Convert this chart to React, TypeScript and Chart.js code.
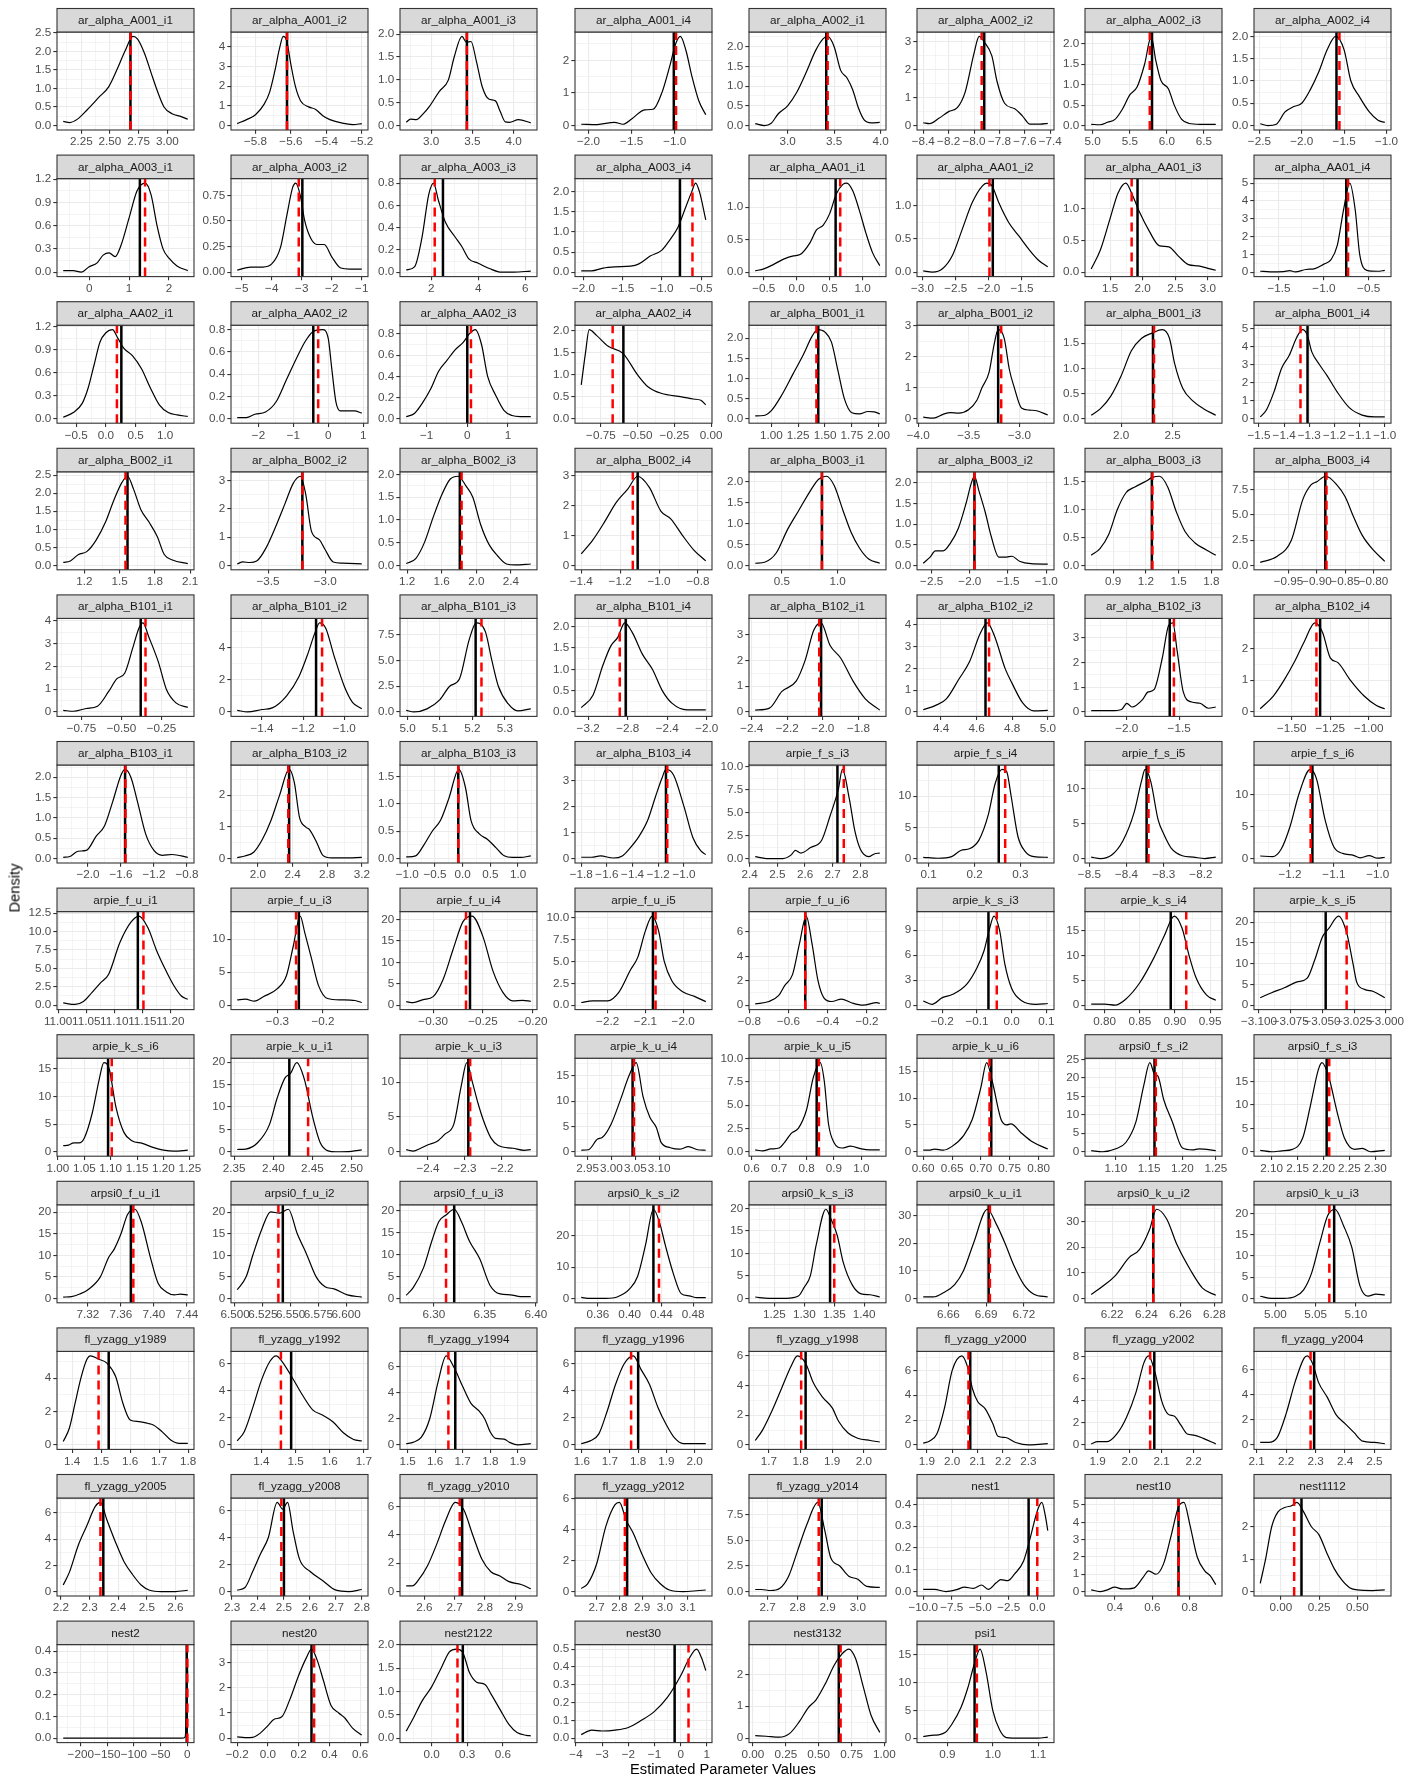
import React, { useEffect, useRef } from "react";
import { Chart, registerables } from "chart.js";

Chart.register(...registerables);

const panelNames = [
  "ar_alpha_A001_i1", "ar_alpha_A001_i2", "ar_alpha_A001_i3", "ar_alpha_A001_i4", "ar_alpha_A002_i1", "ar_alpha_A002_i2", "ar_alpha_A002_i3", "ar_alpha_A002_i4",
  "ar_alpha_A003_i1", "ar_alpha_A003_i2", "ar_alpha_A003_i3", "ar_alpha_A003_i4", "ar_alpha_AA01_i1", "ar_alpha_AA01_i2", "ar_alpha_AA01_i3", "ar_alpha_AA01_i4",
  "ar_alpha_AA02_i1", "ar_alpha_AA02_i2", "ar_alpha_AA02_i3", "ar_alpha_AA02_i4", "ar_alpha_B001_i1", "ar_alpha_B001_i2", "ar_alpha_B001_i3", "ar_alpha_B001_i4",
  "ar_alpha_B002_i1", "ar_alpha_B002_i2", "ar_alpha_B002_i3", "ar_alpha_B002_i4", "ar_alpha_B003_i1", "ar_alpha_B003_i2", "ar_alpha_B003_i3", "ar_alpha_B003_i4",
  "ar_alpha_B101_i1", "ar_alpha_B101_i2", "ar_alpha_B101_i3", "ar_alpha_B101_i4", "ar_alpha_B102_i1", "ar_alpha_B102_i2", "ar_alpha_B102_i3", "ar_alpha_B102_i4",
  "ar_alpha_B103_i1", "ar_alpha_B103_i2", "ar_alpha_B103_i3", "ar_alpha_B103_i4", "arpie_f_s_i3", "arpie_f_s_i4", "arpie_f_s_i5", "arpie_f_s_i6",
  "arpie_f_u_i1", "arpie_f_u_i3", "arpie_f_u_i4", "arpie_f_u_i5", "arpie_f_u_i6", "arpie_k_s_i3", "arpie_k_s_i4", "arpie_k_s_i5",
  "arpie_k_s_i6", "arpie_k_u_i1", "arpie_k_u_i3", "arpie_k_u_i4", "arpie_k_u_i5", "arpie_k_u_i6", "arpsi0_f_s_i2", "arpsi0_f_s_i3",
  "arpsi0_f_u_i1", "arpsi0_f_u_i2", "arpsi0_f_u_i3", "arpsi0_k_s_i2", "arpsi0_k_s_i3", "arpsi0_k_u_i1", "arpsi0_k_u_i2", "arpsi0_k_u_i3",
  "fl_yzagg_y1989", "fl_yzagg_y1992", "fl_yzagg_y1994", "fl_yzagg_y1996", "fl_yzagg_y1998", "fl_yzagg_y2000", "fl_yzagg_y2002", "fl_yzagg_y2004",
  "fl_yzagg_y2005", "fl_yzagg_y2008", "fl_yzagg_y2010", "fl_yzagg_y2012", "fl_yzagg_y2014", "nest1", "nest10", "nest1112",
  "nest2", "nest20", "nest2122", "nest30", "nest3132", "psi1",
];

const xTicks: number[][] = [
  [2.25, 2.5, 2.75, 3], [-5.8, -5.6, -5.4, -5.2], [3, 3.5, 4], [-2, -1.5, -1], [3, 3.5, 4], [-8.4, -8.2, -8, -7.8, -7.6, -7.4], [5, 5.5, 6, 6.5], [-2.5, -2, -1.5, -1],
  [0, 1, 2], [-5, -4, -3, -2, -1], [2, 4, 6], [-2, -1.5, -1, -0.5], [-0.5, 0, 0.5, 1], [-3, -2.5, -2, -1.5], [1.5, 2, 2.5, 3], [-1.5, -1, -0.5],
  [-0.5, 0, 0.5, 1], [-2, -1, 0, 1], [-1, 0, 1], [-0.75, -0.5, -0.25, 0], [1, 1.25, 1.5, 1.75, 2], [-4, -3.5, -3], [2, 2.5], [-1.5, -1.4, -1.3, -1.2, -1.1, -1],
  [1.2, 1.5, 1.8, 2.1], [-3.5, -3], [1.2, 1.6, 2, 2.4], [-1.4, -1.2, -1, -0.8], [0.5, 1], [-2.5, -2, -1.5, -1], [0.9, 1.2, 1.5, 1.8], [-0.95, -0.9, -0.85, -0.8],
  [-0.75, -0.5, -0.25], [-1.4, -1.2, -1], [5, 5.1, 5.2, 5.3], [-3.2, -2.8, -2.4, -2], [-2.4, -2.2, -2, -1.8], [4.4, 4.6, 4.8, 5], [-2, -1.5], [-1.5, -1.25, -1],
  [-2, -1.6, -1.2, -0.8], [2, 2.4, 2.8, 3.2], [-1, -0.5, 0, 0.5, 1], [-1.8, -1.6, -1.4, -1.2, -1], [2.4, 2.5, 2.6, 2.7, 2.8], [0.1, 0.2, 0.3], [-8.5, -8.4, -8.3, -8.2], [-1.2, -1.1, -1],
  [11, 11.05, 11.1, 11.15, 11.2], [-0.3, -0.2], [-0.3, -0.25, -0.2], [-2.2, -2.1, -2], [-0.8, -0.6, -0.4, -0.2], [-0.2, -0.1, 0, 0.1], [0.8, 0.85, 0.9, 0.95], [-3.1, -3.075, -3.05, -3.025, -3],
  [1, 1.05, 1.1, 1.15, 1.2, 1.25], [2.35, 2.4, 2.45, 2.5], [-2.4, -2.3, -2.2], [2.95, 3, 3.05, 3.1], [0.6, 0.7, 0.8, 0.9, 1], [0.6, 0.65, 0.7, 0.75, 0.8], [1.1, 1.15, 1.2, 1.25], [2.1, 2.15, 2.2, 2.25, 2.3],
  [7.32, 7.36, 7.4, 7.44], [6.5, 6.525, 6.55, 6.575, 6.6], [6.3, 6.35, 6.4], [0.36, 0.4, 0.44, 0.48], [1.25, 1.3, 1.35, 1.4], [6.66, 6.69, 6.72], [6.22, 6.24, 6.26, 6.28], [5, 5.05, 5.1],
  [1.4, 1.5, 1.6, 1.7, 1.8], [1.4, 1.5, 1.6, 1.7], [1.5, 1.6, 1.7, 1.8, 1.9], [1.6, 1.7, 1.8, 1.9, 2], [1.7, 1.8, 1.9, 2], [1.9, 2, 2.1, 2.2, 2.3], [1.9, 2, 2.1, 2.2], [2.1, 2.2, 2.3, 2.4, 2.5],
  [2.2, 2.3, 2.4, 2.5, 2.6], [2.3, 2.4, 2.5, 2.6, 2.7, 2.8], [2.6, 2.7, 2.8, 2.9], [2.7, 2.8, 2.9, 3, 3.1], [2.7, 2.8, 2.9, 3], [-10, -7.5, -5, -2.5, 0], [0.4, 0.6, 0.8], [0, 0.25, 0.5],
  [-200, -150, -100, -50, 0], [-0.2, 0, 0.2, 0.4, 0.6], [0, 0.3, 0.6], [-4, -3, -2, -1, 0, 1], [0, 0.25, 0.5, 0.75, 1], [0.9, 1, 1.1],
];

const xDecimals = [
  2, 1, 1, 1, 1, 1, 1, 1,
  0, 0, 0, 1, 1, 1, 1, 1,
  1, 0, 0, 2, 2, 1, 1, 1,
  1, 1, 1, 1, 1, 1, 1, 2,
  2, 1, 1, 1, 1, 1, 1, 2,
  1, 1, 1, 1, 1, 1, 1, 1,
  2, 1, 2, 1, 1, 1, 2, 3,
  2, 2, 1, 2, 1, 2, 2, 2,
  2, 3, 2, 2, 2, 2, 2, 2,
  1, 1, 1, 1, 1, 1, 1, 1,
  1, 1, 1, 1, 1, 1, 1, 2,
  0, 1, 1, 0, 2, 1,
];

const yTicks: number[][] = [
  [0, 0.5, 1, 1.5, 2, 2.5], [0, 1, 2, 3, 4], [0, 0.5, 1, 1.5, 2], [0, 1, 2], [0, 0.5, 1, 1.5, 2], [0, 1, 2, 3], [0, 0.5, 1, 1.5, 2], [0, 0.5, 1, 1.5, 2],
  [0, 0.3, 0.6, 0.9, 1.2], [0, 0.25, 0.5, 0.75], [0, 0.2, 0.4, 0.6, 0.8], [0, 0.5, 1, 1.5, 2], [0, 0.5, 1], [0, 0.5, 1], [0, 0.5, 1], [0, 1, 2, 3, 4, 5],
  [0, 0.3, 0.6, 0.9, 1.2], [0, 0.2, 0.4, 0.6, 0.8], [0, 0.2, 0.4, 0.6, 0.8], [0, 0.5, 1, 1.5, 2], [0, 0.5, 1, 1.5, 2], [0, 1, 2, 3], [0, 0.5, 1, 1.5], [0, 1, 2, 3, 4, 5],
  [0, 0.5, 1, 1.5, 2, 2.5], [0, 1, 2, 3], [0, 0.5, 1, 1.5, 2], [0, 1, 2, 3], [0, 0.5, 1, 1.5, 2], [0, 0.5, 1, 1.5, 2], [0, 0.5, 1, 1.5], [0, 2.5, 5, 7.5],
  [0, 1, 2, 3, 4], [0, 2, 4], [0, 2.5, 5, 7.5], [0, 0.5, 1, 1.5, 2], [0, 1, 2, 3], [0, 1, 2, 3, 4], [0, 1, 2, 3], [0, 1, 2],
  [0, 0.5, 1, 1.5, 2], [0, 1, 2], [0, 0.5, 1, 1.5], [0, 1, 2, 3], [0, 2.5, 5, 7.5, 10], [0, 5, 10], [0, 5, 10], [0, 5, 10],
  [0, 2.5, 5, 7.5, 10, 12.5], [0, 5, 10], [0, 5, 10, 15, 20], [0, 2.5, 5, 7.5, 10], [0, 2, 4, 6], [0, 3, 6, 9], [0, 5, 10, 15], [0, 5, 10, 15, 20],
  [0, 5, 10, 15], [0, 5, 10, 15, 20], [0, 5, 10], [0, 5, 10, 15], [0, 2.5, 5, 7.5, 10], [0, 5, 10, 15], [0, 5, 10, 15, 20, 25], [0, 5, 10, 15],
  [0, 5, 10, 15, 20], [0, 5, 10, 15, 20], [0, 5, 10, 15, 20], [0, 10, 20], [0, 5, 10, 15, 20], [0, 10, 20, 30], [0, 10, 20, 30], [0, 5, 10, 15, 20],
  [0, 2, 4], [0, 2, 4, 6], [0, 2, 4, 6], [0, 2, 4, 6], [0, 2, 4, 6], [0, 2, 4, 6], [0, 2, 4, 6, 8], [0, 2, 4, 6],
  [0, 2, 4, 6], [0, 2, 4, 6], [0, 2, 4, 6], [0, 2, 4, 6], [0, 2.5, 5, 7.5], [0, 0.1, 0.2, 0.3, 0.4], [0, 1, 2, 3, 4, 5], [0, 1, 2],
  [0, 0.1, 0.2, 0.3, 0.4], [0, 1, 2, 3], [0, 0.5, 1, 1.5, 2], [0, 0.1, 0.2, 0.3, 0.4, 0.5], [0, 1, 2], [0, 5, 10, 15],
];

const yDecimals = [
  1, 0, 1, 0, 1, 0, 1, 1,
  1, 2, 1, 1, 1, 1, 1, 0,
  1, 1, 1, 1, 1, 0, 1, 0,
  1, 0, 1, 0, 1, 1, 1, 1,
  0, 0, 1, 1, 0, 0, 0, 0,
  1, 0, 1, 0, 1, 0, 0, 0,
  1, 0, 0, 1, 0, 0, 0, 0,
  0, 0, 0, 0, 1, 0, 0, 0,
  0, 0, 0, 0, 0, 0, 0, 0,
  0, 0, 0, 0, 0, 0, 0, 0,
  0, 0, 0, 0, 1, 1, 0, 0,
  1, 0, 1, 1, 0, 0,
];

const densityCurves: number[][][] = [
  [[2.093,0.11],[2.15,0.08],[2.22,0.18],[2.3,0.42],[2.4,0.75],[2.49,1.05],[2.56,1.5],[2.63,2.0],[2.7,2.4],[2.74,2.33],[2.8,1.95],[2.86,1.4],[2.91,0.95],[2.97,0.5],[3.04,0.32],[3.12,0.24],[3.177,0.17]],
  [[-5.903,0.1],[-5.85,0.3],[-5.8,0.55],[-5.75,1.1],[-5.72,1.7],[-5.69,2.8],[-5.665,3.9],[-5.643,4.53],[-5.625,4.35],[-5.6,3.1],[-5.575,2.0],[-5.545,1.25],[-5.5,0.95],[-5.46,0.82],[-5.42,0.5],[-5.38,0.3],[-5.31,0.12],[-5.25,0.05],[-5.2,0.1]],
  [[2.698,0.07],[2.75,0.14],[2.82,0.13],[2.9,0.25],[2.98,0.42],[3.1,0.75],[3.21,1.0],[3.28,1.5],[3.374,1.95],[3.43,1.82],[3.484,1.84],[3.55,1.4],[3.62,0.85],[3.7,0.58],[3.78,0.54],[3.84,0.3],[3.9,0.08],[3.95,0.07],[4.06,0.13],[4.209,0.06]],
  [[-2.085,0.04],[-1.9,0.03],[-1.7,0.1],[-1.6,0.04],[-1.5,0.2],[-1.35,0.48],[-1.25,0.5],[-1.15,1.0],[-1.05,1.9],[-0.99,2.5],[-0.935,2.73],[-0.87,2.3],[-0.8,1.5],[-0.72,0.75],[-0.64,0.33]],
  [[2.652,0.05],[2.75,0.0],[2.82,0.05],[2.9,0.3],[3.0,0.5],[3.1,0.85],[3.2,1.35],[3.3,1.9],[3.38,2.2],[3.43,2.26],[3.5,2.0],[3.57,1.4],[3.64,1.2],[3.7,0.9],[3.76,0.45],[3.82,0.15],[3.9,0.07],[3.99,0.08]],
  [[-8.4,0.1],[-8.35,0.07],[-8.28,0.25],[-8.2,0.5],[-8.13,0.65],[-8.07,1.2],[-8.0,2.6],[-7.96,3.2],[-7.92,3.0],[-7.86,2.5],[-7.82,1.6],[-7.76,0.8],[-7.68,0.6],[-7.62,0.35],[-7.56,0.05],[-7.48,0.05],[-7.42,0.08]],
  [[4.98,0.03],[5.1,0.02],[5.2,0.08],[5.3,0.15],[5.4,0.4],[5.5,0.75],[5.6,0.95],[5.7,1.5],[5.79,2.18],[5.85,1.6],[5.92,1.1],[6.02,0.9],[6.1,0.5],[6.2,0.15],[6.3,0.05],[6.45,0.03],[6.66,0.03]],
  [[-2.49,0.04],[-2.4,0.0],[-2.3,0.03],[-2.2,0.3],[-2.1,0.42],[-2.0,0.5],[-1.9,0.8],[-1.8,1.2],[-1.7,1.7],[-1.6,2.0],[-1.5,1.7],[-1.42,1.0],[-1.32,0.65],[-1.2,0.3],[-1.1,0.12],[-1.02,0.07]],
  [[-0.65,0.02],[-0.4,0.02],[-0.2,0.0],[0,0.07],[0.2,0.12],[0.35,0.22],[0.5,0.25],[0.65,0.2],[0.8,0.35],[1.0,0.7],[1.2,1.05],[1.4,1.15],[1.55,1.0],[1.7,0.6],[1.85,0.3],[2.0,0.18],[2.2,0.08],[2.47,0.02]],
  [[-5.15,0.02],[-4.7,0.05],[-4.3,0.05],[-4.0,0.08],[-3.7,0.25],[-3.5,0.55],[-3.3,0.83],[-3.2,0.87],[-3.05,0.75],[-2.9,0.5],[-2.7,0.33],[-2.5,0.27],[-2.25,0.27],[-2.0,0.15],[-1.7,0.04],[-1.4,0.03],[-1.0,0.03]],
  [[0.94,0.02],[1.3,0.05],[1.6,0.3],[1.9,0.7],[2.1,0.8],[2.3,0.65],[2.6,0.45],[3.0,0.32],[3.3,0.23],[3.6,0.12],[4.0,0.08],[4.5,0.03],[5.0,0.0],[5.5,0.0],[6.23,0.01]],
  [[-2.03,0.03],[-1.9,0.03],[-1.75,0.1],[-1.6,0.13],[-1.4,0.15],[-1.3,0.2],[-1.15,0.4],[-1.0,0.55],[-0.9,0.8],[-0.8,1.1],[-0.7,1.6],[-0.62,2.0],[-0.57,2.22],[-0.52,2.0],[-0.44,1.3]],
  [[-0.63,0.02],[-0.5,0.05],[-0.35,0.12],[-0.2,0.2],[-0.05,0.25],[0.05,0.27],[0.2,0.45],[0.3,0.65],[0.4,0.72],[0.5,0.9],[0.6,1.2],[0.7,1.35],[0.76,1.37],[0.85,1.25],[0.95,0.95],[1.05,0.6],[1.15,0.3],[1.26,0.1]],
  [[-2.99,0.02],[-2.85,0.0],[-2.7,0.05],[-2.55,0.25],[-2.4,0.65],[-2.25,1.05],[-2.1,1.3],[-2.03,1.345],[-1.95,1.3],[-1.85,1.05],[-1.7,0.75],[-1.55,0.55],[-1.4,0.35],[-1.25,0.18],[-1.11,0.08]],
  [[1.21,0.05],[1.35,0.35],[1.5,0.85],[1.62,1.25],[1.74,1.41],[1.85,1.2],[1.95,0.95],[2.1,0.65],[2.25,0.42],[2.4,0.4],[2.55,0.25],[2.7,0.12],[2.85,0.1],[3.0,0.06],[3.12,0.03]],
  [[-1.71,0.05],[-1.6,0.02],[-1.45,0.03],[-1.38,0.08],[-1.32,0.02],[-1.2,0.15],[-1.1,0.2],[-1.0,0.45],[-0.92,0.7],[-0.85,1.5],[-0.78,3.5],[-0.71,5.0],[-0.65,3.5],[-0.6,1.0],[-0.52,0.1],[-0.4,0.05],[-0.32,0.1]],
  [[-0.72,0.02],[-0.55,0.08],[-0.4,0.2],[-0.3,0.4],[-0.2,0.7],[-0.1,1.0],[0.0,1.12],[0.11,1.16],[0.2,1.05],[0.3,0.92],[0.45,0.82],[0.6,0.65],[0.75,0.4],[0.9,0.18],[1.05,0.08],[1.2,0.05],[1.38,0.03]],
  [[-2.61,0.01],[-2.35,0.01],[-2.1,0.04],[-1.8,0.06],[-1.5,0.15],[-1.2,0.35],[-0.9,0.55],[-0.65,0.7],[-0.45,0.78],[-0.16,0.8],[0.0,0.72],[0.1,0.45],[0.22,0.15],[0.35,0.07],[0.6,0.07],[0.75,0.07],[0.96,0.05]],
  [[-1.5,0.02],[-1.3,0.05],[-1.1,0.15],[-0.9,0.28],[-0.7,0.45],[-0.5,0.55],[-0.3,0.65],[-0.1,0.72],[0.05,0.8],[0.2,0.84],[0.35,0.7],[0.5,0.4],[0.7,0.22],[0.9,0.08],[1.1,0.03],[1.3,0.02],[1.56,0.02]],
  [[-0.884,0.77],[-0.855,1.5],[-0.83,2.03],[-0.78,1.9],[-0.7,1.65],[-0.6,1.49],[-0.5,1.0],[-0.43,0.73],[-0.34,0.58],[-0.2,0.5],[-0.12,0.45],[-0.07,0.42],[-0.036,0.32]],
  [[0.85,0.07],[0.93,0.08],[1.0,0.2],[1.1,0.6],[1.2,1.1],[1.3,1.6],[1.38,2.05],[1.43,2.21],[1.5,2.15],[1.56,1.9],[1.62,1.2],[1.68,0.5],[1.75,0.15],[1.82,0.12],[1.9,0.18],[1.96,0.17],[2.01,0.12]],
  [[-3.95,0.05],[-3.85,0.02],[-3.75,0.15],[-3.68,0.2],[-3.6,0.18],[-3.5,0.3],[-3.42,0.6],[-3.37,1.0],[-3.3,1.5],[-3.25,2.4],[-3.21,2.88],[-3.15,2.6],[-3.1,1.6],[-3.05,1.0],[-2.98,0.35],[-2.9,0.28],[-2.82,0.25],[-2.72,0.12]],
  [[1.71,0.07],[1.8,0.2],[1.9,0.45],[2.0,0.85],[2.1,1.35],[2.2,1.6],[2.3,1.7],[2.4,1.77],[2.47,1.6],[2.52,1.1],[2.6,0.6],[2.7,0.35],[2.8,0.2],[2.92,0.07]],
  [[-1.495,0.1],[-1.47,0.5],[-1.44,1.5],[-1.41,2.8],[-1.38,3.5],[-1.35,4.5],[-1.327,4.93],[-1.31,4.7],[-1.29,3.7],[-1.26,3.0],[-1.23,2.4],[-1.19,1.5],[-1.14,0.6],[-1.09,0.2],[-1.04,0.1],[-1.0,0.1]],
  [[1.02,0.08],[1.08,0.12],[1.15,0.3],[1.22,0.38],[1.3,0.7],[1.38,1.2],[1.45,1.8],[1.52,2.3],[1.567,2.47],[1.62,2.1],[1.68,1.55],[1.75,1.2],[1.82,0.8],[1.88,0.3],[1.95,0.15],[2.08,0.05]],
  [[-3.77,0.05],[-3.72,0.12],[-3.66,0.1],[-3.6,0.15],[-3.52,0.6],[-3.42,1.5],[-3.35,2.2],[-3.28,2.9],[-3.216,3.15],[-3.17,2.5],[-3.12,1.2],[-3.05,0.9],[-3.0,0.55],[-2.93,0.12],[-2.85,0.08],[-2.68,0.05]],
  [[1.19,0.04],[1.3,0.15],[1.4,0.5],[1.5,1.05],[1.6,1.55],[1.7,1.9],[1.79,1.96],[1.88,1.75],[1.96,1.5],[2.05,0.9],[2.15,0.45],[2.25,0.2],[2.35,0.03],[2.45,0.01],[2.63,0.03]],
  [[-1.4,0.38],[-1.34,0.85],[-1.28,1.45],[-1.22,2.1],[-1.16,2.55],[-1.11,2.97],[-1.05,2.6],[-0.99,1.8],[-0.94,1.55],[-0.88,1.0],[-0.82,0.5],[-0.76,0.15]],
  [[0.26,0.05],[0.35,0.08],[0.45,0.3],[0.55,0.85],[0.65,1.3],[0.75,1.75],[0.83,2.05],[0.9,2.12],[0.97,1.9],[1.05,1.3],[1.12,0.8],[1.2,0.4],[1.28,0.15],[1.38,0.05]],
  [[-2.61,0.05],[-2.52,0.2],[-2.45,0.35],[-2.35,0.35],[-2.25,0.55],[-2.15,0.9],[-2.05,1.5],[-1.98,2.0],[-1.94,2.16],[-1.88,1.8],[-1.8,1.3],[-1.72,0.7],[-1.62,0.2],[-1.52,0.2],[-1.45,0.22],[-1.35,0.1],[-1.2,0.04],[-0.98,0.03]],
  [[0.7,0.18],[0.78,0.3],[0.86,0.55],[0.94,1.0],[1.02,1.3],[1.1,1.4],[1.2,1.5],[1.26,1.57],[1.325,1.59],[1.4,1.4],[1.48,0.95],[1.56,0.6],[1.65,0.4],[1.75,0.28],[1.84,0.18]],
  [[-1.0,0.3],[-0.97,0.9],[-0.945,2.5],[-0.925,6.5],[-0.91,8.0],[-0.9,8.3],[-0.884,8.84],[-0.865,8.0],[-0.85,6.8],[-0.835,4.8],[-0.82,3.0],[-0.8,1.5],[-0.78,0.4]],
  [[-0.864,0.07],[-0.8,0.03],[-0.72,0.15],[-0.65,0.25],[-0.58,0.9],[-0.53,1.45],[-0.48,1.7],[-0.43,2.8],[-0.39,3.7],[-0.366,3.91],[-0.33,3.3],[-0.27,2.2],[-0.22,1.0],[-0.16,0.4],[-0.086,0.2]],
  [[-1.52,0.1],[-1.47,0.0],[-1.4,0.15],[-1.35,0.25],[-1.28,1.0],[-1.22,2.2],[-1.18,3.5],[-1.14,5.0],[-1.12,5.53],[-1.09,5.2],[-1.05,3.5],[-1.0,1.6],[-0.96,0.6],[-0.915,0.2]],
  [[4.996,0.15],[5.02,0.0],[5.06,0.3],[5.1,1.2],[5.13,2.5],[5.16,3.2],[5.19,7.0],[5.212,8.65],[5.24,7.8],[5.26,5.0],[5.28,2.5],[5.31,0.8],[5.34,0.1],[5.38,0.3]],
  [[-3.27,0.1],[-3.15,0.4],[-3.05,1.1],[-2.97,1.55],[-2.9,1.75],[-2.83,2.09],[-2.75,1.85],[-2.65,1.35],[-2.55,1.0],[-2.45,0.5],[-2.35,0.2],[-2.2,0.05],[-2.01,0.05]],
  [[-2.38,0.07],[-2.3,0.15],[-2.23,0.8],[-2.15,1.2],[-2.1,2.0],[-2.05,3.2],[-2.01,3.47],[-1.96,2.6],[-1.9,2.1],[-1.83,1.2],[-1.76,0.5],[-1.68,0.07]],
  [[4.3,0.1],[4.37,0.3],[4.43,0.6],[4.5,1.5],[4.56,2.3],[4.62,3.6],[4.66,4.09],[4.7,3.5],[4.76,2.0],[4.8,1.3],[4.86,0.4],[4.92,0.05],[5.0,0.07]],
  [[-2.34,0.05],[-2.25,0.05],[-2.15,0.05],[-2.05,0.1],[-2.0,0.35],[-1.95,0.2],[-1.85,0.5],[-1.8,0.8],[-1.74,0.9],[-1.66,2.2],[-1.6,3.5],[-1.56,3.6],[-1.52,2.5],[-1.46,0.8],[-1.38,0.4],[-1.3,0.35],[-1.22,0.15],[-1.15,0.2]],
  [[-1.705,0.1],[-1.62,0.5],[-1.55,1.0],[-1.48,1.6],[-1.42,2.2],[-1.35,2.8],[-1.3,2.5],[-1.25,1.7],[-1.2,1.55],[-1.12,1.0],[-1.03,0.5],[-0.95,0.2],[-0.896,0.1]],
  [[-2.3,0.03],[-2.22,0.05],[-2.12,0.18],[-2.02,0.2],[-1.9,0.55],[-1.8,0.8],[-1.7,1.4],[-1.6,2.05],[-1.55,2.19],[-1.48,2.0],[-1.4,1.4],[-1.3,0.6],[-1.2,0.2],[-1.1,0.08],[-0.98,0.1],[-0.79,0.03]],
  [[1.76,0.03],[1.85,0.08],[1.95,0.2],[2.05,0.6],[2.15,1.2],[2.25,2.0],[2.36,2.81],[2.42,2.4],[2.48,1.3],[2.55,1.0],[2.6,0.9],[2.68,0.5],[2.75,0.1],[2.85,0.02],[3.0,0.02],[3.2,0.04]],
  [[-1.02,0.03],[-0.85,0.05],[-0.7,0.25],[-0.55,0.5],[-0.4,0.7],[-0.25,1.1],[-0.07,1.63],[0.05,1.3],[0.15,0.7],[0.3,0.45],[0.45,0.35],[0.6,0.2],[0.75,0.05],[0.9,0.02],[1.05,0.02],[1.23,0.05]],
  [[-1.8,0.05],[-1.72,0.05],[-1.65,0.1],[-1.55,0.02],[-1.48,0.1],[-1.42,0.4],[-1.35,0.85],[-1.28,1.5],[-1.22,2.4],[-1.17,3.1],[-1.14,3.42],[-1.08,3.2],[-1.0,2.0],[-0.93,0.8],[-0.87,0.3],[-0.83,0.15]],
  [[2.42,0.2],[2.46,0.0],[2.52,0.0],[2.55,0.4],[2.565,0.9],[2.585,0.6],[2.62,1.2],[2.66,2.0],[2.69,4.6],[2.72,7.5],[2.735,9.7],[2.76,6.5],[2.78,3.0],[2.8,1.0],[2.83,0.2],[2.85,0.5],[2.87,0.6]],
  [[0.088,0.2],[0.12,0.05],[0.15,0.3],[0.17,1.3],[0.19,1.6],[0.21,3.0],[0.23,7.0],[0.245,12.0],[0.26,14.3],[0.27,14.0],[0.28,10.0],[0.295,3.5],[0.31,1.2],[0.33,0.3],[0.36,0.2]],
  [[-8.495,0.2],[-8.47,0.0],[-8.44,0.5],[-8.41,2.5],[-8.38,6.5],[-8.36,11.0],[-8.35,12.7],[-8.335,11.0],[-8.315,5.5],[-8.3,3.5],[-8.28,1.5],[-8.25,0.4],[-8.22,0.2],[-8.19,0.0],[-8.16,0.2]],
  [[-1.268,0.4],[-1.24,0.3],[-1.22,1.5],[-1.2,5.0],[-1.18,10.0],[-1.154,13.9],[-1.14,12.5],[-1.12,6.0],[-1.1,1.8],[-1.08,0.8],[-1.055,0.5],[-1.04,0.1],[-1.02,0.45],[-1.0,0.05],[-0.984,0.2]],
  [[11.009,0.3],[11.03,0.1],[11.045,0.5],[11.06,1.7],[11.075,3.0],[11.09,4.2],[11.11,8.5],[11.13,11.3],[11.144,12.1],[11.16,10.5],[11.175,7.5],[11.19,5.0],[11.205,2.8],[11.22,1.2],[11.231,0.8]],
  [[-0.388,0.8],[-0.37,0.9],[-0.35,0.6],[-0.33,1.3],[-0.3,2.5],[-0.28,4.5],[-0.265,9.0],[-0.25,13.5],[-0.24,11.0],[-0.225,7.0],[-0.21,3.0],[-0.19,1.0],[-0.16,0.8],[-0.13,0.7],[-0.115,0.4]],
  [[-0.327,0.8],[-0.32,0.6],[-0.31,1.3],[-0.3,2.0],[-0.29,6.0],[-0.28,13.0],[-0.27,19.5],[-0.261,20.8],[-0.25,16.0],[-0.24,8.0],[-0.23,3.0],[-0.22,1.0],[-0.21,1.1],[-0.202,0.9]],
  [[-2.27,0.3],[-2.24,0.5],[-2.2,0.5],[-2.17,1.5],[-2.14,4.0],[-2.12,5.5],[-2.1,8.5],[-2.082,10.2],[-2.065,8.5],[-2.05,5.0],[-2.03,2.8],[-2.0,1.5],[-1.97,1.0],[-1.94,0.4]],
  [[-0.77,0.1],[-0.7,0.3],[-0.65,0.8],[-0.62,1.6],[-0.58,2.5],[-0.545,5.0],[-0.51,7.3],[-0.48,5.0],[-0.45,2.0],[-0.42,0.6],[-0.38,0.3],[-0.33,0.5],[-0.28,0.2],[-0.22,0.0],[-0.15,0.2],[-0.135,0.15]],
  [[-0.255,0.5],[-0.23,0.1],[-0.2,0.9],[-0.17,1.3],[-0.13,2.5],[-0.1,4.5],[-0.08,6.5],[-0.065,9.0],[-0.051,10.7],[-0.035,9.0],[-0.02,5.0],[0.0,2.0],[0.03,0.5],[0.07,0.1],[0.104,0.2]],
  [[0.781,0.2],[0.8,0.2],[0.815,0.0],[0.83,1.2],[0.85,4.5],[0.87,9.5],[0.885,14.0],[0.899,17.9],[0.91,15.5],[0.92,10.0],[0.93,5.5],[0.945,2.0],[0.958,1.0]],
  [[-3.099,1.8],[-3.09,3.0],[-3.08,4.2],[-3.07,5.6],[-3.062,6.5],[-3.056,11.0],[-3.05,16.5],[-3.045,18.5],[-3.0374,21.5],[-3.031,17.5],[-3.026,10.0],[-3.023,5.5],[-3.017,3.8],[-3.01,3.3],[-3.001,1.8]],
  [[1.01,1.1],[1.02,1.2],[1.03,1.6],[1.04,1.6],[1.05,2.5],[1.065,7.0],[1.078,13.0],[1.087,16.1],[1.097,15.0],[1.11,8.0],[1.125,3.5],[1.14,2.0],[1.16,1.5],[1.18,0.8],[1.2,0.3],[1.22,0.1],[1.246,0.3]],
  [[2.354,0.5],[2.365,0.6],[2.38,2.0],[2.395,6.0],[2.405,12.0],[2.415,16.5],[2.422,17.5],[2.43,19.9],[2.44,16.0],[2.45,8.0],[2.46,2.0],[2.47,0.2],[2.48,0.0],[2.5,0.1],[2.513,0.4]],
  [[-2.459,0.3],[-2.44,0.1],[-2.42,0.5],[-2.4,1.0],[-2.375,1.5],[-2.355,2.5],[-2.33,4.0],[-2.31,9.5],[-2.295,12.8],[-2.28,10.0],[-2.265,7.0],[-2.25,4.5],[-2.23,2.0],[-2.21,0.9],[-2.17,0.5],[-2.14,0.2],[-2.122,0.3]],
  [[2.9367,0.3],[2.9519,0.4],[2.971,2.5],[2.9805,2.8],[2.9995,5.5],[3.0186,10.2],[3.0376,15.2],[3.0519,17.6],[3.0662,10.9],[3.0805,6.8],[3.094,4.8],[3.1043,1.8],[3.1233,0.8],[3.1424,0.5],[3.1614,1.0],[3.1805,0.4],[3.1976,0.3]],
  [[0.613,0.2],[0.64,0.1],[0.67,0.3],[0.7,0.4],[0.72,1.0],[0.745,2.0],[0.77,2.5],[0.8,4.5],[0.825,8.0],[0.85,9.55],[0.865,7.5],[0.88,3.0],[0.9,1.0],[0.93,0.4],[0.96,0.6],[1.0,0.3],[1.03,0.2],[1.067,0.2]],
  [[0.6,0.3],[0.61,0.3],[0.62,0.5],[0.635,0.3],[0.65,1.0],[0.67,3.0],[0.685,6.0],[0.7,12.0],[0.71,16.6],[0.72,13.0],[0.735,6.0],[0.745,5.0],[0.752,5.2],[0.77,3.5],[0.79,1.8],[0.816,0.5]],
  [[1.063,0.3],[1.08,0.0],[1.1,0.8],[1.115,2.5],[1.13,8.0],[1.142,18.0],[1.151,24.1],[1.158,21.0],[1.163,20.5],[1.172,14.0],[1.185,8.0],[1.2,1.0],[1.215,0.5],[1.225,0.8],[1.25,0.3]],
  [[2.078,0.3],[2.1,0.0],[2.12,0.2],[2.14,0.5],[2.16,3.0],[2.175,10.0],[2.19,17.5],[2.197,19.0],[2.21,16.0],[2.225,9.0],[2.24,3.0],[2.26,0.5],[2.275,0.7],[2.29,0.0],[2.318,0.3]],
  [[7.29,0.3],[7.3,0.4],[7.31,1.0],[7.32,2.0],[7.335,5.0],[7.345,9.5],[7.352,11.5],[7.36,15.0],[7.368,19.5],[7.377,20.7],[7.385,17.5],[7.395,10.0],[7.405,3.5],[7.415,1.5],[7.425,0.8],[7.432,1.0],[7.441,0.8]],
  [[6.502,2.0],[6.51,5.0],[6.516,10.0],[6.524,16.0],[6.532,20.1],[6.54,19.8],[6.548,20.7],[6.556,15.0],[6.564,10.5],[6.573,5.0],[6.581,2.7],[6.589,2.2],[6.601,0.8],[6.614,0.3]],
  [[6.273,0.7],[6.28,2.5],[6.29,7.0],[6.298,13.0],[6.305,17.5],[6.312,19.0],[6.32,20.3],[6.327,17.5],[6.335,13.0],[6.345,9.0],[6.355,3.0],[6.365,1.0],[6.375,0.8],[6.385,0.4],[6.395,0.4]],
  [[0.339,0.3],[0.35,0.0],[0.37,0.0],[0.385,0.5],[0.4,3.0],[0.41,7.0],[0.42,17.0],[0.43,28.5],[0.438,24.0],[0.445,17.0],[0.455,8.0],[0.465,1.5],[0.475,0.8],[0.485,0.2],[0.496,0.2]],
  [[1.218,0.3],[1.24,0.0],[1.27,0.0],[1.29,0.5],[1.3,2.5],[1.31,5.0],[1.32,12.0],[1.336,19.85],[1.345,17.5],[1.355,14.0],[1.365,8.0],[1.38,3.0],[1.395,1.0],[1.41,0.8],[1.426,0.3]],
  [[6.64,0.5],[6.648,0.5],[6.656,2.0],[6.665,5.0],[6.672,10.0],[6.68,20.0],[6.691,32.3],[6.698,27.0],[6.705,20.0],[6.712,12.0],[6.72,5.0],[6.728,1.5],[6.739,0.5]],
  [[6.2077,1.5],[6.215,5.0],[6.222,9.0],[6.23,16.0],[6.236,19.0],[6.242,27.0],[6.246,34.8],[6.252,31.0],[6.258,21.0],[6.266,11.0],[6.273,4.0],[6.2808,1.2]],
  [[4.981,0.5],[4.995,0.0],[5.01,0.0],[5.025,0.5],[5.035,2.0],[5.045,6.0],[5.055,13.0],[5.065,19.5],[5.074,21.0],[5.085,17.0],[5.095,12.0],[5.105,3.0],[5.115,0.5],[5.125,1.0],[5.136,0.8]],
  [[1.369,0.2],[1.39,1.0],[1.41,2.5],[1.43,4.0],[1.45,5.1],[1.463,5.34],[1.49,5.15],[1.52,4.9],[1.55,4.1],[1.575,2.5],[1.6,1.5],[1.63,1.4],[1.66,1.3],[1.68,1.2],[1.71,0.8],[1.74,0.3],[1.77,0.1],[1.799,0.1]],
  [[1.329,0.3],[1.35,1.0],[1.375,2.8],[1.4,4.8],[1.425,6.2],[1.443,6.6],[1.46,6.2],[1.49,5.0],[1.52,3.7],[1.55,2.6],[1.58,2.2],[1.61,1.7],[1.64,0.9],[1.67,0.4],[1.694,0.3]],
  [[1.495,0.1],[1.52,0.2],[1.55,0.6],[1.58,2.0],[1.61,4.8],[1.64,6.86],[1.67,5.9],[1.7,4.5],[1.73,3.2],[1.76,2.6],[1.78,2.0],[1.8,1.0],[1.82,0.5],[1.85,0.45],[1.87,0.2],[1.9,0.0],[1.947,0.1]],
  [[1.598,0.1],[1.63,0.3],[1.66,0.8],[1.69,2.5],[1.72,4.5],[1.75,6.0],[1.783,6.6],[1.81,5.6],[1.84,4.5],[1.87,2.8],[1.9,1.5],[1.93,0.5],[1.96,0.1],[2.0,0.1],[2.04,0.1]],
  [[1.657,0.3],[1.68,1.0],[1.71,2.3],[1.74,3.8],[1.77,5.3],[1.79,6.0],[1.816,5.5],[1.84,4.2],[1.87,3.2],[1.9,2.5],[1.92,1.6],[1.95,0.8],[1.98,0.45],[2.02,0.3],[2.05,0.2]],
  [[1.886,0.15],[1.91,0.3],[1.94,0.9],[1.97,3.0],[2.0,6.0],[2.038,7.17],[2.06,6.3],[2.08,4.5],[2.1,3.5],[2.13,2.9],[2.16,1.7],[2.18,0.7],[2.21,0.6],[2.25,0.2],[2.3,0.0],[2.34,0.05],[2.376,0.1]],
  [[1.88,0.1],[1.9,0.3],[1.93,0.3],[1.96,1.0],[1.99,2.5],[2.02,4.8],[2.045,7.5],[2.059,8.09],[2.08,6.5],[2.1,4.0],[2.12,2.8],[2.14,2.6],[2.16,1.8],[2.18,1.0],[2.2,0.9],[2.23,0.6],[2.269,0.1]],
  [[2.112,0.2],[2.14,0.2],[2.17,0.6],[2.2,2.5],[2.23,5.0],[2.26,6.9],[2.272,7.12],[2.29,6.5],[2.31,5.0],[2.34,3.8],[2.37,2.4],[2.4,1.7],[2.43,1.0],[2.46,0.3],[2.5,0.2],[2.535,0.1]],
  [[2.208,0.5],[2.23,1.5],[2.26,3.5],[2.29,5.0],[2.32,6.5],[2.338,6.8],[2.36,5.5],[2.39,3.8],[2.42,2.3],[2.45,1.3],[2.48,0.5],[2.51,0.1],[2.55,0.0],[2.6,0.0],[2.643,0.1]],
  [[2.32,0.1],[2.35,0.3],[2.38,1.5],[2.41,2.8],[2.44,4.0],[2.474,6.6],[2.495,6.1],[2.514,6.6],[2.535,4.5],[2.56,2.4],[2.6,1.5],[2.65,0.8],[2.7,0.1],[2.75,0.0],[2.8,0.15]],
  [[2.54,0.4],[2.56,0.4],[2.58,0.8],[2.61,1.8],[2.64,3.3],[2.67,5.0],[2.702,6.3],[2.73,5.8],[2.76,4.0],[2.79,2.3],[2.82,1.4],[2.85,1.1],[2.88,0.7],[2.92,0.5],[2.952,0.2]],
  [[2.632,0.2],[2.66,0.5],[2.7,1.8],[2.74,4.2],[2.78,5.6],[2.8,5.76],[2.83,4.6],[2.86,3.8],[2.9,2.4],[2.94,1.2],[2.98,0.5],[3.02,0.1],[3.08,0.0],[3.14,0.05],[3.18,0.1]],
  [[2.659,0.2],[2.68,0.2],[2.71,0.1],[2.74,0.3],[2.77,1.5],[2.8,4.0],[2.83,6.5],[2.867,8.7],[2.89,6.0],[2.91,3.3],[2.94,2.5],[2.97,1.5],[3.0,1.2],[3.03,0.5],[3.073,0.4]],
  [[-10,0.01],[-9,0.01],[-8,0.0],[-7,0.01],[-6.4,0.02],[-5.6,0.015],[-4.9,0.03],[-4.3,0.01],[-3.6,0.04],[-3.2,0.055],[-2.6,0.05],[-2.0,0.08],[-1.2,0.14],[-0.6,0.25],[0.0,0.37],[0.4,0.409],[0.7,0.35],[0.92,0.28]],
  [[0.274,0.1],[0.32,0.0],[0.36,0.1],[0.4,0.25],[0.44,0.15],[0.5,0.2],[0.55,0.8],[0.58,1.2],[0.62,1.0],[0.66,1.6],[0.7,3.2],[0.74,4.9],[0.769,5.15],[0.8,3.9],[0.84,2.0],[0.88,1.2],[0.91,0.9],[0.939,0.4]],
  [[-0.135,0.25],[-0.1,1.0],[-0.06,2.0],[-0.02,2.45],[0.03,2.6],[0.07,2.65],[0.105,2.75],[0.15,2.45],[0.2,2.0],[0.25,1.75],[0.3,1.2],[0.35,0.7],[0.4,0.35],[0.45,0.12],[0.5,0.05],[0.6,0.03],[0.68,0.05]],
  [[-233,0.0],[-150,0.0],[-60,0.0],[-10,0.0],[-4,0.005],[-2.5,0.05],[-1.5,0.2],[-0.8,0.35],[-0.3,0.41],[0.3,0.38],[0.8,0.32],[1.2,0.3]],
  [[-0.2,0.05],[-0.15,0.02],[-0.1,0.03],[-0.05,0.2],[0.0,0.5],[0.04,0.75],[0.09,0.85],[0.14,1.5],[0.2,2.5],[0.25,3.2],[0.283,3.54],[0.32,3.1],[0.36,2.3],[0.41,1.3],[0.46,1.0],[0.5,0.8],[0.55,0.4],[0.61,0.12]],
  [[-0.214,0.15],[-0.15,0.45],[-0.08,0.8],[0.0,1.1],[0.08,1.5],[0.15,1.85],[0.21,1.91],[0.26,1.85],[0.32,1.4],[0.38,1.2],[0.45,1.15],[0.5,0.95],[0.58,0.6],[0.65,0.3],[0.72,0.12],[0.8,0.06],[0.836,0.05]],
  [[-3.8,0.02],[-3.4,0.045],[-3.0,0.04],[-2.5,0.045],[-2.0,0.06],[-1.5,0.1],[-1.0,0.15],[-0.5,0.23],[0.0,0.35],[0.3,0.44],[0.61,0.5],[0.8,0.45],[0.96,0.38]],
  [[0.017,0.08],[0.1,0.06],[0.2,0.03],[0.28,0.15],[0.35,0.5],[0.42,0.95],[0.48,1.2],[0.55,1.7],[0.62,2.3],[0.68,2.65],[0.729,2.79],[0.78,2.5],[0.84,1.6],[0.9,0.7],[0.965,0.18]],
  [[0.847,0.3],[0.865,0.5],[0.88,0.6],[0.895,1.0],[0.91,2.5],[0.93,5.5],[0.945,9.0],[0.96,13.5],[0.972,16.0],[0.985,12.0],[1.0,5.0],[1.015,1.5],[1.03,0.1],[1.06,0.0],[1.1,0.0],[1.121,0.2]],
];

const blackLineX = [
  2.678, -5.622, 3.434, -1.011, 3.415, -7.92, 5.8, -1.59,
  1.27, -2.98, 2.5, -0.77, 0.59, -1.94, 1.92, -0.75,
  0.26, -0.43, 0.0, -0.597, 1.437, -3.21, 2.31, -1.307,
  1.567, -3.2, 1.81, -1.11, 0.86, -1.94, 1.255, -0.885,
  -0.38, -1.137, 5.21, -2.82, -2.01, 4.65, -1.59, -1.316,
  -1.55, 2.36, -0.08, -1.14, 2.717, 0.253, -8.346, -1.149,
  11.142, -0.253, -0.263, -2.08, -0.515, -0.067, 0.894, -3.0475,
  1.095, 2.4205, -2.291, 3.0443, 0.837, 0.718, 1.158, 2.206,
  7.372, 6.543, 6.32, 0.43, 1.343, 6.692, 6.2441, 5.073,
  1.526, 1.487, 1.673, 1.8, 1.816, 2.071, 2.077, 2.295,
  2.348, 2.5, 2.725, 2.834, 2.88, -0.76, 0.74, 0.135,
  -0.8, 0.283, 0.263, -0.23, 0.653, 0.96,
];

const redLineX = [
  2.678, -5.622, 3.434, -0.985, 3.43, -7.94, 5.77, -1.555,
  1.4, -3.1, 2.15, -0.61, 0.66, -1.99, 1.83, -0.73,
  0.185, -0.29, 0.09, -0.67, 1.42, -3.18, 2.32, -1.335,
  1.55, -3.2, 1.83, -1.135, 0.86, -1.94, 1.26, -0.883,
  -0.35, -1.108, 5.228, -2.88, -2.02, 4.67, -1.55, -1.34,
  -1.545, 2.35, -0.08, -1.13, 2.74, 0.267, -8.341, -1.153,
  11.152, -0.259, -0.267, -2.073, -0.515, -0.043, 0.916, -3.031,
  1.102, 2.4445, -2.286, 3.0471, 0.845, 0.715, 1.16, 2.211,
  7.375, 6.539, 6.312, 0.437, 1.35, 6.693, 6.2441, 5.067,
  1.491, 1.457, 1.648, 1.775, 1.802, 2.064, 2.064, 2.283,
  2.338, 2.49, 2.717, 2.824, 2.87, 0.0, 0.74, 0.087,
  0.5, 0.3, 0.218, 0.3, 0.667, 0.965,
];

// ---------- layout / style ----------
const COLS = 8;
const colLeft = [57, 231, 400, 575, 749, 917, 1085, 1254];
const PANEL_W = 137;
const PLOT_H = 98;
const STRIP_H = 23.5;
const ROW_PITCH = 146.6;
const FIRST_PLOT_TOP = 32;
const AXIS_L = 46;
const AXIS_B = 24;
const PAD_R = 30;
const PAD_T = 4;
const FONT = "'Liberation Sans', Arial, Helvetica, sans-serif";
const FONT_SIZE = 11.7;

const fmt = (v: number, d: number) => {
  const s = Math.abs(v).toFixed(d);
  return (v < 0 && parseFloat(s) !== 0 ? "\u2212" : "") + s;
};

function buildTicks(majors: number[], min: number, max: number) {
  const eps = (max - min) * 1e-6;
  const out: { value: number; isMinor: boolean }[] = [];
  majors.forEach((v) => {
    if (v >= min - eps && v <= max + eps) out.push({ value: v, isMinor: false });
  });
  if (majors.length > 1) {
    const step = majors[1] - majors[0];
    for (let k = -1; k < majors.length; k++) {
      const m = majors[0] + (k + 0.5) * step;
      if (m > min && m < max) out.push({ value: m, isMinor: true });
    }
  }
  out.sort((a, b) => a.value - b.value);
  return out;
}

const facetPlugin = {
  id: "facet",
  afterDraw(chart: any, _args: any, opts: any) {
    const { ctx, chartArea: a } = chart;
    ctx.save();
    ctx.strokeStyle = "#333333";
    ctx.lineWidth = 1.1;
    ctx.strokeRect(a.left, a.top, a.right - a.left, a.bottom - a.top);
    const top = a.top - STRIP_H;
    ctx.fillStyle = "#D9D9D9";
    ctx.fillRect(a.left, top, a.right - a.left, STRIP_H);
    ctx.strokeRect(a.left, top, a.right - a.left, STRIP_H);
    ctx.fillStyle = "#1A1A1A";
    ctx.font = `${FONT_SIZE}px ${FONT}`;
    ctx.textAlign = "center";
    ctx.textBaseline = "middle";
    ctx.fillText(opts.title, (a.left + a.right) / 2, top + STRIP_H / 2 + 0.5);
    ctx.restore();
  },
};

function Panel({ i }: { i: number }) {
  const ref = useRef<HTMLCanvasElement>(null);
  const r = Math.floor(i / COLS);
  const c = i % COLS;
  const plotTop = FIRST_PLOT_TOP + r * ROW_PITCH;
  const canvasTop = Math.round(plotTop - STRIP_H - PAD_T);
  const padTop = plotTop - canvasTop;
  const canvasLeft = colLeft[c] - AXIS_L;
  const w = AXIS_L + PANEL_W + PAD_R;
  const h = Math.ceil(padTop + PLOT_H + AXIS_B);
  const axisB = h - padTop - PLOT_H;

  useEffect(() => {
    const pts = densityCurves[i];
    const xs = pts.map((p) => p[0]);
    const ys = pts.map((p) => p[1]);
    const x0 = Math.min(...xs);
    const x1 = Math.max(...xs);
    const yMax = Math.max(...ys);
    const xPad = (x1 - x0) * 0.05;
    const xMin = x0 - xPad;
    const xMax = x1 + xPad;
    const yMin = -0.05 * yMax;
    const yTop = 1.05 * yMax;

    const gridCommon = {
      color: "#EBEBEB",
      lineWidth: (ctx: any) => (ctx.tick && ctx.tick.isMinor ? 0.55 : 1.1),
      tickColor: (ctx: any) => (ctx.tick && ctx.tick.isMinor ? "rgba(0,0,0,0)" : "#333333"),
      tickLength: 3.7,
      tickWidth: 1.1,
      drawOnChartArea: true,
      drawTicks: true,
    };
    const tickFont = { family: FONT, size: FONT_SIZE };

    const chart = new Chart(ref.current as HTMLCanvasElement, {
      type: "line",
      data: {
        datasets: [
          {
            data: pts.map(([x, y]) => ({ x, y })),
            borderColor: "#000000",
            borderWidth: 1.2,
            pointRadius: 0,
            cubicInterpolationMode: "monotone",
            fill: false,
            order: 3,
          },
          {
            data: [{ x: blackLineX[i], y: yMin }, { x: blackLineX[i], y: yTop }],
            borderColor: "#000000",
            borderWidth: 2.5,
            pointRadius: 0,
            fill: false,
            order: 2,
          },
          {
            data: [{ x: redLineX[i], y: yMin }, { x: redLineX[i], y: yTop }],
            borderColor: "#FF0000",
            borderWidth: 2.5,
            borderDash: [9, 6],
            pointRadius: 0,
            fill: false,
            order: 1,
          },
        ],
      } as any,
      options: {
        animation: false,
        responsive: false,
        maintainAspectRatio: false,
        devicePixelRatio: 1,
        events: [],
        layout: { padding: { left: 0, right: PAD_R, top: padTop, bottom: 0 } },
        plugins: {
          legend: { display: false },
          tooltip: { enabled: false },
          facet: { title: panelNames[i] },
        } as any,
        scales: {
          x: {
            type: "linear",
            min: xMin,
            max: xMax,
            bounds: "data",
            grid: gridCommon as any,
            border: { display: false },
            ticks: {
              autoSkip: false,
              maxRotation: 0,
              minRotation: 0,
              padding: 1.5,
              color: "#4D4D4D",
              font: tickFont,
              callback: (_v: any, idx: number, ticks: any[]) =>
                ticks[idx].isMinor ? "" : fmt(ticks[idx].value, xDecimals[i]),
            },
            afterBuildTicks: (s: any) => {
              s.ticks = buildTicks(xTicks[i], xMin, xMax);
            },
            afterFit: (s: any) => {
              s.height = axisB;
              s.paddingLeft = 0;
              s.paddingRight = 0;
            },
          } as any,
          y: {
            type: "linear",
            min: yMin,
            max: yTop,
            bounds: "data",
            grid: gridCommon as any,
            border: { display: false },
            ticks: {
              autoSkip: false,
              padding: 2,
              color: "#4D4D4D",
              font: tickFont,
              callback: (_v: any, idx: number, ticks: any[]) =>
                ticks[idx].isMinor ? "" : fmt(ticks[idx].value, yDecimals[i]),
            },
            afterBuildTicks: (s: any) => {
              s.ticks = buildTicks(yTicks[i], yMin, yTop);
            },
            afterFit: (s: any) => {
              s.width = AXIS_L;
              s.paddingTop = 0;
              s.paddingBottom = 0;
            },
          } as any,
        },
      },
      plugins: [facetPlugin as any],
    });
    return () => chart.destroy();
  }, [i]);

  return (
    <canvas
      ref={ref}
      width={w}
      height={h}
      style={{ position: "absolute", left: canvasLeft, top: canvasTop, width: w, height: h }}
    />
  );
}

export default function App() {
  return (
    <div
      style={{
        position: "absolute",
        left: 0,
        top: 0,
        width: 1415,
        height: 1778,
        background: "#FFFFFF",
        overflow: "hidden",
      }}
    >
      {panelNames.map((_, i) => (
        <Panel key={i} i={i} />
      ))}
      <div
        style={{
          position: "absolute",
          left: 723,
          top: 1761,
          transform: "translateX(-50%)",
          whiteSpace: "nowrap",
          fontFamily: FONT,
          fontSize: 14.7,
          lineHeight: "17px",
          color: "#000000",
        }}
      >
        Estimated Parameter Values
      </div>
      <div
        style={{
          position: "absolute",
          left: 15,
          top: 888,
          transform: "translate(-50%, -50%) rotate(-90deg)",
          whiteSpace: "nowrap",
          fontFamily: FONT,
          fontSize: 14.7,
          lineHeight: "17px",
          color: "#000000",
        }}
      >
        Density
      </div>
    </div>
  );
}
